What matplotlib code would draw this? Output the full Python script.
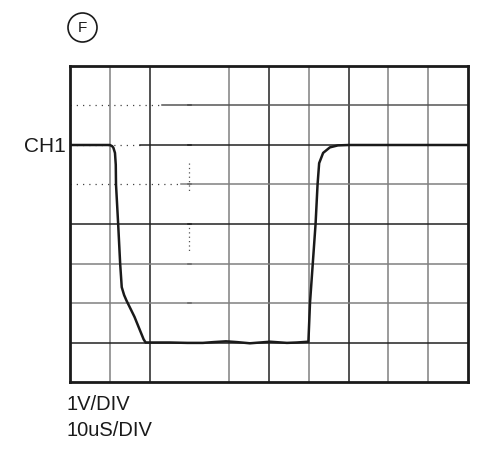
import matplotlib
matplotlib.use("Agg")
import matplotlib.pyplot as plt
from matplotlib.patches import Ellipse

plt.rcParams['font.family'] = ['Liberation Sans', 'DejaVu Sans']

# Oscilloscope trace, CH1 (time in us, voltage in V relative to CH1 marker)
time_us = [0, 10.0, 10.6, 10.9, 11.3, 11.5, 11.56, 12.1, 12.6, 13.0, 13.6, 14.2,
           16.2, 18.5, 19.0, 25.0, 29.5, 33.4, 36.0, 39.2, 42.0, 45.2, 50.3, 54.5,
           57.0, 59.9, 60.3, 61.0, 61.7, 62.2, 62.6, 63.6, 65.3, 67.3, 70.0, 100.0]
volts = [0, 0, -0.03, -0.07, -0.2, -0.5, -1.0, -2.0, -3.0, -3.6, -3.8, -3.94,
         -4.35, -4.92, -5.0, -5.0, -5.01, -5.01, -4.99, -4.97, -4.99, -5.02, -4.98, -5.01,
         -5.0, -4.98, -4.0, -3.0, -2.0, -1.0, -0.46, -0.2, -0.06, -0.01, 0, 0]

ch_label = "CH1"
scale_labels = ["1V/DIV", "10uS/DIV"]
panel_letter = "F"

n_xdiv = 10
n_ydiv = 8
x_per_div = 10.0
y_per_div = 1.0
y_min = -6.0

fig = plt.figure(figsize=(5.0, 4.61), dpi=100)
ax = fig.add_axes([70/500, 1 - 382/461, 398/500, 316/461])
ax.set_xlim(0, n_xdiv * x_per_div)
ax.set_ylim(y_min, y_min + n_ydiv * y_per_div)
ax.set_xticks([])
ax.set_yticks([])
for s in ax.spines.values():
    s.set_linewidth(2.0)
    s.set_color('#1a1a1a')

# grid lines
vcolors = {1: '#808080', 2: '#222222', 4: '#808080', 5: '#222222', 6: '#808080',
           7: '#222222', 8: '#808080', 9: '#808080'}
for i, c in vcolors.items():
    ax.axvline(i * x_per_div, color=c, lw=1.1, zorder=1)
# centre vertical line is only faintly dotted
xc = 3 * x_per_div
for y0, y1 in [(-0.46, -1.22), (-1.97, -2.73)]:
    ax.plot([xc, xc], [y0, y1], color='#555555', lw=0.9, ls=(0, (1, 2.5)), zorder=1)
for k in range(1, n_ydiv):
    ax.plot([xc - 0.3, xc + 0.3], [y_min + k, y_min + k], color='#333333', lw=1.2, zorder=1)

hcolors = {1: '#222222', 2: '#808080', 3: '#808080', 4: '#222222', 5: '#808080',
           6: '#222222', 7: '#555555'}
dotted_until = {7: 2.3, 6: 1.76, 5: 2.8}
for j, c in hcolors.items():
    yv = y_min + j * y_per_div
    if j in dotted_until:
        xd = dotted_until[j] * x_per_div
        ax.plot([0, xd], [yv, yv], color='#444444', lw=0.9, ls=(0, (1, 4)), zorder=1)
        ax.plot([xd, n_xdiv * x_per_div], [yv, yv], color=c, lw=1.1, zorder=1)
    else:
        ax.axhline(yv, color=c, lw=1.1, zorder=1)

ax.plot(time_us, volts, color='#1a1a1a', lw=1.8, zorder=3, solid_joinstyle='round')

txt = '#1a1a1a'
fig.text(66/500, 1 - 146/461, ch_label, ha='right', va='center', fontsize=15, color=txt)
fig.text(67/500, 1 - 404/461, scale_labels[0], ha='left', va='center', fontsize=14.5, color=txt)
fig.text(67/500, 1 - 430/461, scale_labels[1], ha='left', va='center', fontsize=14.5, color=txt)

fig.patches.append(Ellipse((82.5/500, 1 - 27.5/461), 29/500, 29/461, transform=fig.transFigure,
                           fill=False, ec=txt, lw=1.2))
fig.text(82.5/500, 1 - 28/461, panel_letter, ha='center', va='center', fontsize=11,
         color=txt)

fig.savefig('out.png', dpi=100)
